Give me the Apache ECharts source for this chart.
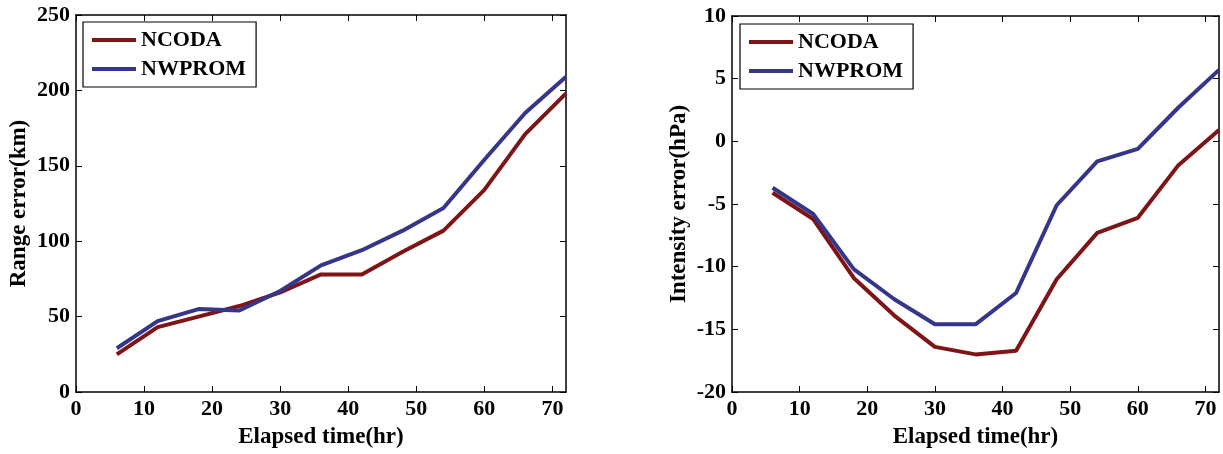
<!DOCTYPE html>
<html><head><meta charset="utf-8">
<script src="https://cdn.jsdelivr.net/npm/echarts@6/dist/echarts.min.js"></script>
<style>html,body{margin:0;padding:0;background:#fff}#c{width:1223px;height:454px}</style>
</head><body><div id="c"></div>
<script>
const hours = [6,12,18,24,30,36,42,48,54,60,66,72];
const rangeNCODA = [25,43,50,57,66,78,78,93,107,134,171,198];
const rangeNWPROM = [29,47,55,54,67,84,94,107,122,154,185,209];
const intNCODA = [-4.1,-6.2,-10.9,-13.9,-16.4,-17.0,-16.7,-11.0,-7.3,-6.1,-1.9,0.9];
const intNWPROM = [-3.7,-5.8,-10.2,-12.6,-14.6,-14.6,-12.1,-5.1,-1.6,-0.6,2.7,5.7];
const xTicks = [0,10,20,30,40,50,60,70];
const names = ['NCODA','NWPROM'];
const colors = ['#7f1416','#35358a'];

const font = 'Liberation Serif';
const pair = a => hours.map((h,i)=>[h,a[i]]);
function xAx(grid, pos, show){
  return {type:'value', gridIndex:grid, position:pos, min:0, max:72,
    axisLine:{show:true, onZero:false, lineStyle:{color:'#000', width:1.5}},
    axisTick:{show:true, inside:true, length:6, customValues:xTicks, lineStyle:{color:'#000'}},
    axisLabel:{show:show, customValues:xTicks, color:'#000', fontFamily:font, fontWeight:'bold', fontSize:22, margin:6},
    splitLine:{show:false},
    name: show ? 'Elapsed time(hr)' : '', nameLocation:'middle', nameGap:34,
    nameTextStyle:{color:'#000', fontFamily:font, fontWeight:'bold', fontSize:23}};
}
function yAx(grid, pos, show, min, max, interval, name, gap){
  return {type:'value', gridIndex:grid, position:pos, min:min, max:max, interval:interval,
    axisLine:{show:true, onZero:false, lineStyle:{color:'#000', width:1.5}},
    axisTick:{show:true, inside:true, length:6, lineStyle:{color:'#000'}},
    axisLabel:{show:show, color:'#000', fontFamily:font, fontWeight:'bold', fontSize:22, margin:6},
    splitLine:{show:false},
    name: show ? name : '', nameLocation:'middle', nameGap:gap, nameRotate:90,
    nameTextStyle:{color:'#000', fontFamily:font, fontWeight:'bold', fontSize:23}};
}
function legend(left, top){
  return {left:left, top:top, orient:'vertical', data:names.map(n=>({name:n})),
    icon:'rect', itemWidth:44, itemHeight:4, itemGap:7,
    borderColor:'#000', borderWidth:1.2, padding:[7,10,7,9], backgroundColor:'#fff',
    textStyle:{color:'#000', fontFamily:font, fontWeight:'bold', fontSize:22}};
}
const chart = echarts.init(document.getElementById('c'), null, {renderer:'canvas'});
chart.setOption({
  backgroundColor:'#fff',
  animation:false,
  grid:[
    {left:76, top:15, width:490, height:381},
    {left:732, top:16, width:487, height:379}
  ],
  legend:[legend(83,22), legend(740,24)],
  xAxis:[xAx(0,'bottom',true), xAx(0,'top',false), xAx(1,'bottom',true), xAx(1,'top',false)],
  yAxis:[
    yAx(0,'left',true,0,250,50,'Range error(km)',45),
    yAx(0,'right',false,0,250,50,'',0),
    yAx(1,'left',true,-20,10,5,'Intensity error(hPa)',41),
    yAx(1,'right',false,-20,10,5,'',0)
  ],
  series:[
    {name:names[0], type:'line', xAxisIndex:0, yAxisIndex:0, data:pair(rangeNCODA), showSymbol:false, lineStyle:{width:4, color:colors[0]}, itemStyle:{color:colors[0]}},
    {name:names[1], type:'line', xAxisIndex:0, yAxisIndex:0, data:pair(rangeNWPROM), showSymbol:false, lineStyle:{width:4, color:colors[1]}, itemStyle:{color:colors[1]}},
    {name:names[0], type:'line', xAxisIndex:2, yAxisIndex:2, data:pair(intNCODA), showSymbol:false, lineStyle:{width:4, color:colors[0]}, itemStyle:{color:colors[0]}},
    {name:names[1], type:'line', xAxisIndex:2, yAxisIndex:2, data:pair(intNWPROM), showSymbol:false, lineStyle:{width:4, color:colors[1]}, itemStyle:{color:colors[1]}}
  ]
});
</script></body></html>
